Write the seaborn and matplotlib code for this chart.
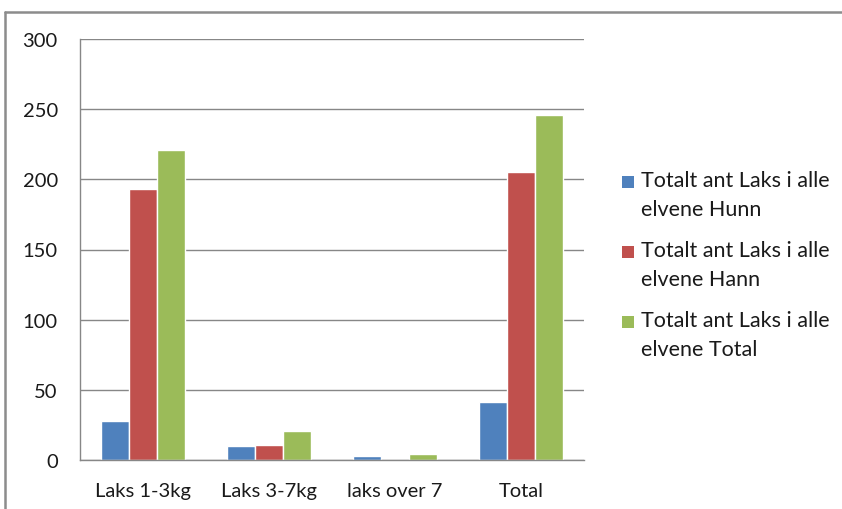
import pandas as pd
import matplotlib.pyplot as plt
import matplotlib.patches as mpatches
import seaborn as sns

# Data
kategorier = ["Laks 1-3kg", "Laks 3-7kg", "laks over 7", "Total"]
serier = ["Totalt ant Laks i alle\nelvene Hunn",
          "Totalt ant Laks i alle\nelvene Hann",
          "Totalt ant Laks i alle\nelvene Total"]
hunn = [28, 10, 3, 41]
hann = [193, 11, 0, 205]
total = [221, 21, 4, 246]
farger = ["#4F81BD", "#C0504D", "#9BBB59"]

df = pd.DataFrame({
    "kategori": kategorier * 3,
    "serie": [serier[0]] * 4 + [serier[1]] * 4 + [serier[2]] * 4,
    "antall": hunn + hann + total,
})

sns.set_style("white")
plt.rcParams["font.family"] = ["Lato", "DejaVu Sans"]

fig = plt.figure(figsize=(8.42, 5.10), dpi=100)
ax = fig.add_axes([80 / 842, 49 / 510, 504 / 842, 421 / 510])

sns.barplot(data=df, x="kategori", y="antall", hue="serie",
            palette=farger, width=0.667, saturation=1, legend=False, ax=ax)

grid_col = "#878787"
ax.set_ylim(0, 300)
ax.set_xlim(-0.5, 3.5)
ax.set_yticks(range(0, 301, 50))
ax.yaxis.grid(True, color=grid_col, linewidth=1)
ax.set_axisbelow(True)
ax.set_xlabel("")
ax.set_ylabel("")

for side in ["top", "right"]:
    ax.spines[side].set_visible(False)
for side in ["left", "bottom"]:
    ax.spines[side].set_color(grid_col)
    ax.spines[side].set_linewidth(1)

ax.tick_params(axis="y", length=5, color=grid_col, labelsize=14.5, pad=11)
ax.tick_params(axis="x", which="major", length=0, labelsize=14.5, pad=16)
ax.set_xticks([-0.5, 0.5, 1.5, 2.5, 3.5], minor=True)
ax.tick_params(axis="x", which="minor", length=6, color=grid_col)
for lbl in ax.get_yticklabels() + ax.get_xticklabels():
    lbl.set_color("#1a1a1a")

# legend, marker beside the first line like Excel
leg_y = [183, 253, 323]
for navn, farge, y in zip(serier, farger, leg_y):
    fig.patches.append(mpatches.Rectangle(
        (622 / 842, 1 - (y + 6) / 510), 12 / 842, 12 / 510,
        transform=fig.transFigure, facecolor=farge, edgecolor="none"))
    fig.text(641 / 842, 1 - (y - 12) / 510, navn, fontsize=15.5,
             va="top", ha="left", color="#1a1a1a", linespacing=1.55)

# outer chart frame
fig.add_artist(plt.Line2D([5 / 842, 1], [1 - 13 / 510] * 2,
                          transform=fig.transFigure, color="#8c8c8c", lw=1.8))
fig.add_artist(plt.Line2D([5 / 842] * 2, [0, 1 - 13 / 510],
                          transform=fig.transFigure, color="#8c8c8c", lw=1.8))

fig.savefig("out.png", dpi=100)
plt.close()
